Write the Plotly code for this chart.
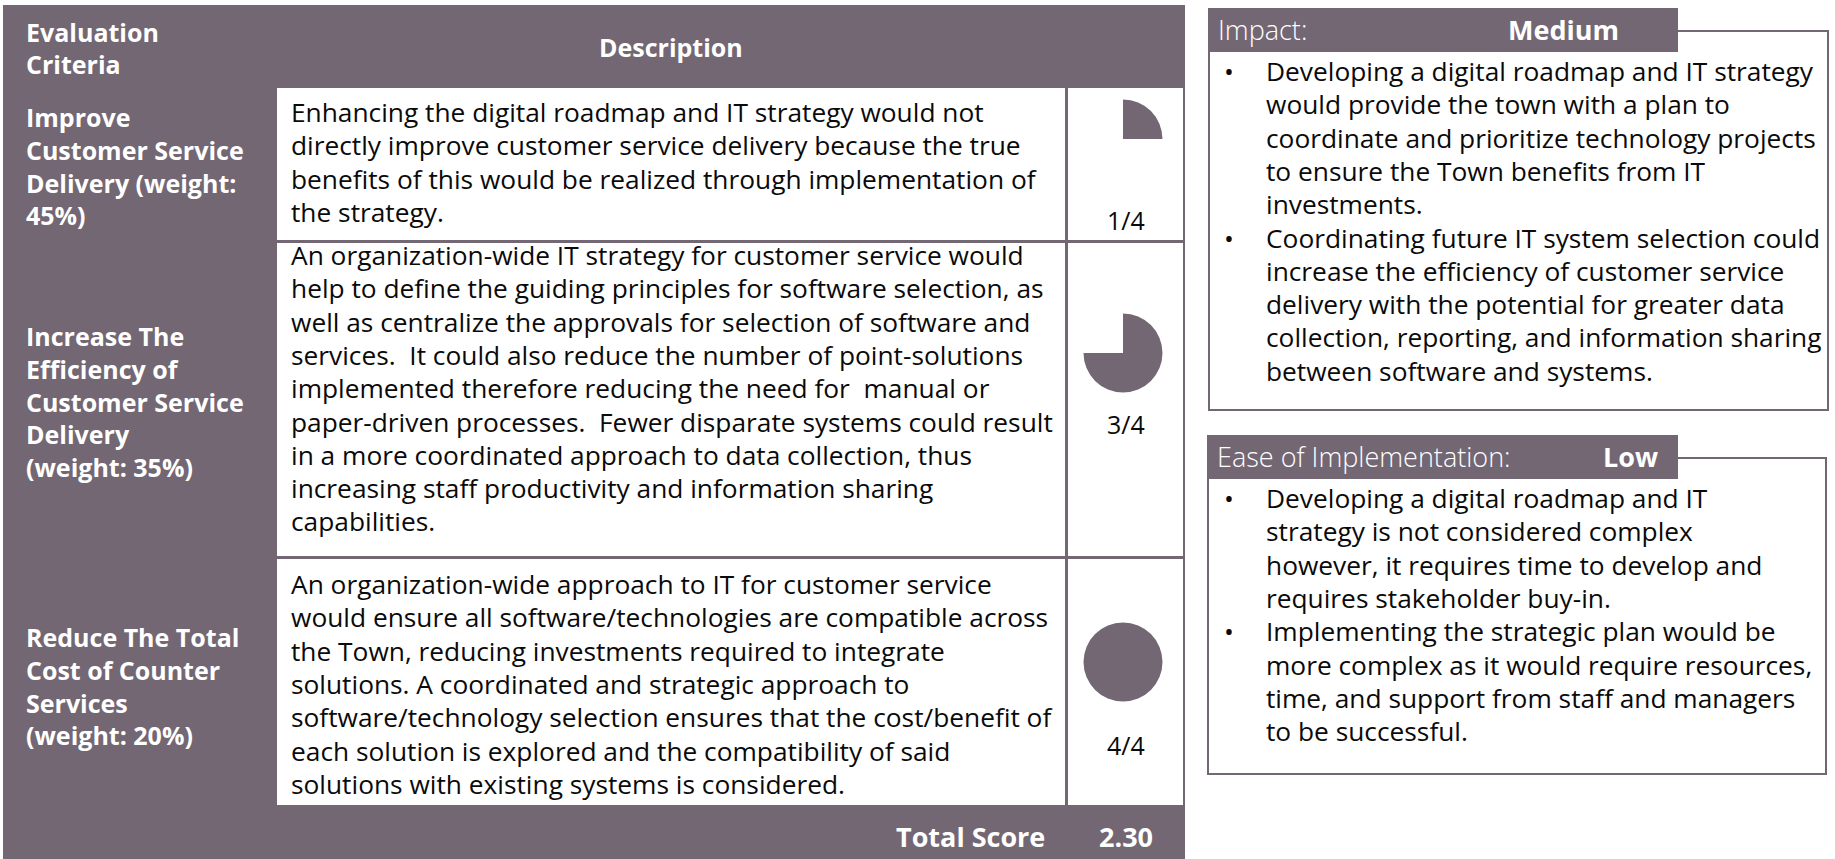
import plotly.graph_objects as go

# ------------------------------------------------------------------ data
header_criteria = ["Evaluation", "Criteria"]
header_description = "Description"

criteria_lines = [
    ["Improve", "Customer Service", "Delivery (weight:", "45%)"],
    ["Increase The", "Efficiency of", "Customer Service", "Delivery", "(weight: 35%)"],
    ["Reduce The Total", "Cost of Counter", "Services", "(weight: 20%)"],
]
weights = [45, 35, 20]          # percent
scores = [1, 3, 4]              # out of score_max
score_max = 4

description_lines = [
    [
        "Enhancing the digital roadmap and IT strategy would not",
        "directly improve customer service delivery because the true",
        "benefits of this would be realized through implementation of",
        "the strategy.",
    ],
    [
        "An organization-wide IT strategy for customer service would",
        "help to define the guiding principles for software selection, as",
        "well as centralize the approvals for selection of software and",
        "services. \u00a0It could also reduce the number of point-solutions",
        "implemented therefore reducing the need for \u00a0manual or",
        "paper-driven processes. \u00a0Fewer disparate systems could result",
        "in a more coordinated approach to data collection, thus",
        "increasing staff productivity and information sharing",
        "capabilities.",
    ],
    [
        "An organization-wide approach to IT for customer service",
        "would ensure all software/technologies are compatible across",
        "the Town, reducing investments required to integrate",
        "solutions. A coordinated and strategic approach to",
        "software/technology selection ensures that the cost/benefit of",
        "each solution is explored and the compatibility of said",
        "solutions with existing systems is considered.",
    ],
]
total_label = "Total Score"

impact_title = "Impact:"
impact_level = "Medium"
impact_bullets = [
    [
        "Developing a digital roadmap and IT strategy",
        "would provide the town with a plan to",
        "coordinate and prioritize technology projects",
        "to ensure the Town benefits from IT",
        "investments.",
    ],
    [
        "Coordinating future IT system selection could",
        "increase the efficiency of customer service",
        "delivery with the potential for greater data",
        "collection, reporting, and information sharing",
        "between software and systems.",
    ],
]

ease_title = "Ease of Implementation:"
ease_level = "Low"
ease_bullets = [
    [
        "Developing a digital roadmap and IT",
        "strategy is not considered complex",
        "however, it requires time to develop and",
        "requires stakeholder buy-in.",
    ],
    [
        "Implementing the strategic plan would be",
        "more complex as it would require resources,",
        "time, and support from staff and managers",
        "to be successful.",
    ],
]

# ------------------------------------------------------------------ style / layout
W, H = 1835, 859
PURPLE = "#736774"
TEXT = "#0a0a0a"
WHITE = "#ffffff"
FONT = "Open Sans"
FS = 26.3        # body text
FS_BOLD = 25     # criteria labels / header
FS_SCORE = 25
FS_TOTAL = 27
FS_TITLE = 27
LH = 33.3        # description line spacing
LBL_LH = 32.8    # criteria label line spacing

T_L, T_R, T_T, T_B = 3, 1185, 5, 859
LABEL_X = 24
DESC_L, DESC_R = 277, 1065
SCORE_L, SCORE_R = 1068, 1183
ROW_TOP = [88, 243, 559]
ROW_BOT = [240, 556, 805]
DESC_X = 289
DESC_FIRST = [112, 255, 584]
LABEL_FIRST = [117, 336, 637]
PIE_CX = 1123
PIE_CY = [139, 353, 662]
PIE_R = 39.5
SCORE_LBL_Y = [220, 424, 745]

shapes = []
annotations = []


def rect(x0, y0, x1, y1, fill=None, line_color=None, line_width=0):
    shapes.append(dict(
        type="rect", xref="x", yref="y", x0=x0, y0=y0, x1=x1, y1=y1,
        fillcolor=fill if fill else "rgba(0,0,0,0)",
        line=dict(color=line_color if line_color else "rgba(0,0,0,0)", width=line_width),
        layer="below",
    ))


def text(x, y, s, anchor="left", color=TEXT, bold=False, size=FS, weight=None):
    font = dict(family=FONT, size=size, color=color)
    if weight is not None:
        font["weight"] = weight
    annotations.append(dict(
        x=x, y=y, xref="x", yref="y", text=(f"<b>{s}</b>" if bold else s),
        showarrow=False, xanchor=anchor, yanchor="middle", font=font,
    ))


# table background
rect(T_L, T_T, T_R, T_B, fill=PURPLE)
# header
for i, s in enumerate(header_criteria):
    text(LABEL_X, 32 + i * 32, s, color=WHITE, bold=True, size=FS_BOLD)
text((DESC_L + DESC_R) / 2, 47, header_description, anchor="center", color=WHITE,
     bold=True, size=FS_BOLD)

traces = [go.Scatter(x=[0, W], y=[0, H], mode="markers", marker=dict(opacity=0),
                     hoverinfo="skip", showlegend=False)]

for r in range(len(scores)):
    rect(DESC_L, ROW_TOP[r], DESC_R, ROW_BOT[r], fill=WHITE)
    rect(SCORE_L, ROW_TOP[r], SCORE_R, ROW_BOT[r], fill=WHITE)
    for i, s in enumerate(criteria_lines[r]):
        text(LABEL_X, LABEL_FIRST[r] + i * LBL_LH, s, color=WHITE, bold=True, size=FS_BOLD)
    for i, s in enumerate(description_lines[r]):
        text(DESC_X, DESC_FIRST[r] + i * LH, s)
    # harvey ball
    traces.append(go.Pie(
        values=[scores[r], score_max - scores[r]],
        marker=dict(colors=[PURPLE, "rgba(0,0,0,0)"], line=dict(width=0)),
        sort=False, direction="clockwise", rotation=0,
        textinfo="none", hoverinfo="skip", showlegend=False,
        domain=dict(x=[(PIE_CX - PIE_R) / W, (PIE_CX + PIE_R) / W],
                    y=[1 - (PIE_CY[r] + PIE_R) / H, 1 - (PIE_CY[r] - PIE_R) / H]),
    ))
    text((SCORE_L + SCORE_R) / 2, SCORE_LBL_Y[r], f"{scores[r]}/{score_max}",
         anchor="center", size=FS_SCORE)

total_score = sum(w * s for w, s in zip(weights, scores)) / 100
text(1047, 836, total_label, anchor="right", color=WHITE, bold=True, size=FS_TOTAL)
text((SCORE_L + SCORE_R) / 2, 836, f"{total_score:.2f}", anchor="center", color=WHITE,
     bold=True, size=FS_TOTAL)


# right-hand boxes
def info_box(x0, x1, line_y, y1, bar_y0, bar_y1, bar_x1, title, level, level_x, bullets, first_y):
    rect(x0, line_y, x1, y1, fill=WHITE, line_color=PURPLE, line_width=2)
    rect(x0 - 1, bar_y0, bar_x1, bar_y1, fill=PURPLE)
    ty = (bar_y0 + bar_y1) / 2 - 1
    text(x0 + 7, ty, title, color=WHITE, size=FS_TITLE, weight=300)
    text(level_x, ty, level, color=WHITE, bold=True, size=FS_TITLE)
    y = first_y
    for b in bullets:
        text(1229, y, "\u2022", anchor="center")
        for s in b:
            text(1264, y, s)
            y += LH


info_box(1209, 1828, 31, 410, 8, 52, 1678, impact_title, impact_level, 1506,
         impact_bullets, 71)
info_box(1208, 1826, 458, 774, 435, 479, 1678, ease_title, ease_level, 1601,
         ease_bullets, 498)

fig = go.Figure(traces)
fig.update_layout(
    width=W, height=H, margin=dict(l=0, r=0, t=0, b=0),
    paper_bgcolor=WHITE, plot_bgcolor=WHITE,
    xaxis=dict(range=[0, W], visible=False, fixedrange=True),
    yaxis=dict(range=[H, 0], visible=False, fixedrange=True),
    shapes=shapes, annotations=annotations, showlegend=False,
)
fig.write_html("out.html", config={"displayModeBar": False, "staticPlot": True},
               post_script="document.body.style.margin='0';document.body.style.overflow='hidden';")
